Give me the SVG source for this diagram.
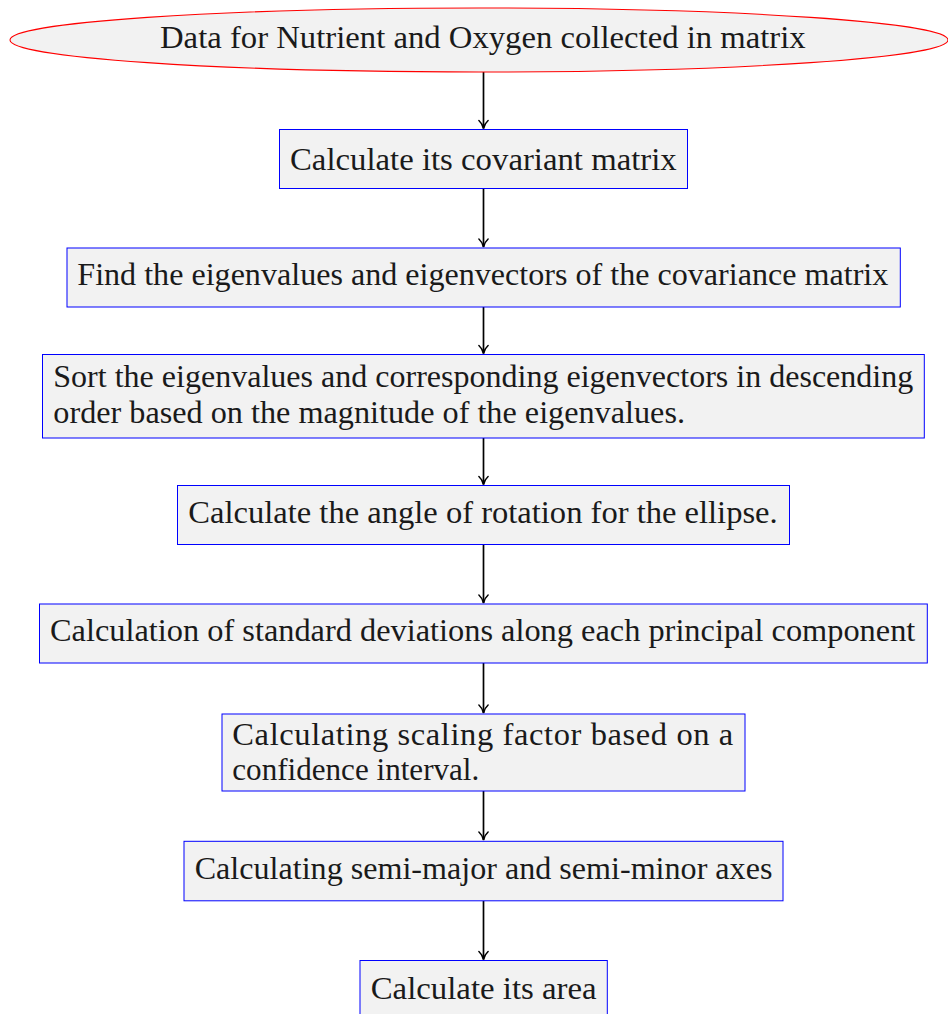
<svg xmlns="http://www.w3.org/2000/svg" width="948" height="1014" viewBox="0 0 948 1014">
<defs>
<style>
.box{fill:#f2f2f2;stroke:#0000ff;stroke-width:1}
.ell{fill:#f2f2f2;stroke:#ff0000;stroke-width:1.1}
.t{font-family:"Liberation Serif","DejaVu Serif",serif;font-size:32.5px;fill:#1a1a1a}
.c{stroke:#000;stroke-width:1.7;fill:none}
</style>
<marker id="ah" markerUnits="userSpaceOnUse" markerWidth="14" markerHeight="14" viewBox="-10 -7 12 14" refX="0" refY="0" orient="auto">
<path d="M-8,-4.6 C-5.5,-1.8 -2.2,-0.5 0,0 C-2.2,0.5 -5.5,1.8 -8,4.6" fill="none" stroke="#000" stroke-width="1.5" stroke-linecap="round"/>
</marker>
</defs>
<g id="connectors">
<line class="c" x1="483.5" y1="72" x2="483.5" y2="128.5" marker-end="url(#ah)"/>
<line class="c" x1="483.5" y1="188.5" x2="483.5" y2="247" marker-end="url(#ah)"/>
<line class="c" x1="483.5" y1="307" x2="483.5" y2="353.5" marker-end="url(#ah)"/>
<line class="c" x1="483.5" y1="438" x2="483.5" y2="484.5" marker-end="url(#ah)"/>
<line class="c" x1="483.5" y1="544.5" x2="483.5" y2="603" marker-end="url(#ah)"/>
<line class="c" x1="483.5" y1="663" x2="483.5" y2="713" marker-end="url(#ah)"/>
<line class="c" x1="483.5" y1="791" x2="483.5" y2="840" marker-end="url(#ah)"/>
<line class="c" x1="483.5" y1="901" x2="483.5" y2="959.5" marker-end="url(#ah)"/>
</g>
<g id="n0">
<ellipse class="ell" cx="479" cy="40" rx="469" ry="32"/>
<text class="t" x="160" y="48.3" textLength="645.7" lengthAdjust="spacingAndGlyphs">Data for Nutrient and Oxygen collected in matrix</text>
</g>
<g id="n1">
<rect class="box" x="279.5" y="129.5" width="408" height="59"/>
<text class="t" x="290" y="170.3" textLength="386.7" lengthAdjust="spacingAndGlyphs">Calculate its covariant matrix</text>
</g>
<g id="n2">
<rect class="box" x="67" y="248" width="833.3" height="59"/>
<text class="t" x="77.3" y="285" textLength="811" lengthAdjust="spacingAndGlyphs">Find the eigenvalues and eigenvectors of the covariance matrix</text>
</g>
<g id="n3">
<rect class="box" x="42.5" y="354.5" width="881.8" height="83.5"/>
<text class="t" x="53.3" y="386.7" textLength="860" lengthAdjust="spacingAndGlyphs">Sort the eigenvalues and corresponding eigenvectors in descending</text>
<text class="t" x="53.3" y="423.3" textLength="631.7" lengthAdjust="spacingAndGlyphs">order based on the magnitude of the eigenvalues.</text>
</g>
<g id="n4">
<rect class="box" x="177.5" y="485.5" width="612" height="59"/>
<text class="t" x="188.3" y="522.7" textLength="589.4" lengthAdjust="spacingAndGlyphs">Calculate the angle of rotation for the ellipse.</text>
</g>
<g id="n5">
<rect class="box" x="39.5" y="604" width="887.8" height="59"/>
<text class="t" x="50" y="641" textLength="865.3" lengthAdjust="spacingAndGlyphs">Calculation of standard deviations along each principal component</text>
</g>
<g id="n6">
<rect class="box" x="222" y="714" width="523" height="77"/>
<text class="t" x="232.3" y="745" textLength="501" lengthAdjust="spacing">Calculating scaling factor based on a</text>
<text class="t" x="232.3" y="780" textLength="247" lengthAdjust="spacingAndGlyphs">confidence interval.</text>
</g>
<g id="n7">
<rect class="box" x="184" y="841.3" width="599" height="59.5"/>
<text class="t" x="194.7" y="879.3" textLength="577.7" lengthAdjust="spacingAndGlyphs">Calculating semi-major and semi-minor axes</text>
</g>
<g id="n8">
<rect class="box" x="360" y="960.5" width="247.3" height="59"/>
<text class="t" x="370.7" y="999.3" textLength="226" lengthAdjust="spacingAndGlyphs">Calculate its area</text>
</g>
</svg>
